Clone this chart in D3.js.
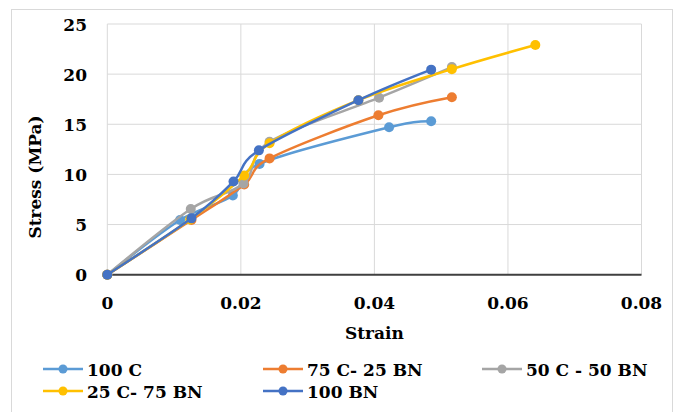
<!DOCTYPE html>
<html>
<head>
<meta charset="utf-8">
<script src="https://cdn.jsdelivr.net/npm/d3@7"></script>
<style>
  body { margin: 0; background: #fff; }
  text { font-family: "DejaVu Serif", serif; font-weight: bold; fill: #000; }
</style>
</head>
<body>
<div id="chart"></div>
<script>
// series values: [strain, stress]
const seriesNames = ["100 C", "75 C- 25 BN", "50 C - 50 BN", "25 C- 75 BN", "100 BN"]
const seriesColors = ["#5B9BD5", "#ED7D31", "#A5A5A5", "#FFC000", "#4472C4"]
const c100 = [[0, 0], [0.0109, 5.45], [0.0188, 7.9], [0.0228, 11.05], [0.0422, 14.7], [0.0485, 15.3]]
const c75bn25 = [[0, 0], [0.0126, 5.45], [0.0205, 9.0], [0.0243, 11.6], [0.0406, 15.9], [0.0516, 17.7]]
const c50bn50 = [[0, 0], [0.0125, 6.55], [0.0204, 9.1], [0.0243, 13.25], [0.0407, 17.65], [0.0516, 20.7]]
const c25bn75 = [[0, 0], [0.0124, 5.5], [0.0205, 9.9], [0.0243, 13.1], [0.0376, 17.4], [0.0516, 20.5], [0.0641, 22.9]]
const bn100 = [[0, 0], [0.0126, 5.62], [0.0189, 9.3], [0.0227, 12.4], [0.0376, 17.4], [0.0485, 20.45]]
const xTicks = [0, 0.02, 0.04, 0.06, 0.08]
const yTicks = [0, 5, 10, 15, 20, 25]

const allSeries = [c100, c75bn25, c50bn50, c25bn75, bn100]

const width = 681
const height = 412
const margin = {top: 24, right: 39.5, bottom: 137.3, left: 107.3}

const svg = d3.select("#chart")
    .append("svg")
    .attr("width", width)
    .attr("height", height)

const x = d3.scaleLinear()
    .domain([0, 0.08])
    .range([margin.left, width - margin.right])

const y = d3.scaleLinear()
    .domain([0, 25])
    .range([height - margin.bottom, margin.top])

// chart border
svg.append("rect")
    .attr("x", 11.5).attr("y", 9.5)
    .attr("width", 661).attr("height", 420)
    .attr("fill", "none")
    .attr("stroke", "#d9d9d9")

// grid
const grid = svg.append("g").attr("stroke", "#d9d9d9").attr("stroke-width", 1)
grid.selectAll("line.h")
    .data(yTicks)
    .join("line")
    .attr("class", "h")
    .attr("x1", x(0)).attr("x2", x(0.08))
    .attr("y1", d => y(d)).attr("y2", d => y(d))
grid.selectAll("line.v")
    .data(xTicks)
    .join("line")
    .attr("class", "v")
    .attr("x1", d => x(d)).attr("x2", d => x(d))
    .attr("y1", y(0)).attr("y2", y(25))

// x axis line
svg.append("line")
    .attr("x1", x(0)).attr("x2", x(0.08))
    .attr("y1", y(0)).attr("y2", y(0))
    .attr("stroke", "#404040")
    .attr("stroke-width", 2)

// tick labels
svg.append("g")
    .selectAll("text")
    .data(yTicks)
    .join("text")
    .attr("x", 87)
    .attr("y", d => y(d) + 6.5)
    .attr("text-anchor", "end")
    .style("font-size", "17px")
    .text(d => d)

svg.append("g")
    .selectAll("text")
    .data(xTicks)
    .join("text")
    .attr("x", d => x(d))
    .attr("y", 309)
    .attr("text-anchor", "middle")
    .style("font-size", "17px")
    .text(d => d)

// axis titles
svg.append("text")
    .attr("x", (x(0) + x(0.08)) / 2)
    .attr("y", 339)
    .attr("text-anchor", "middle")
    .style("font-size", "17px")
    .text("Strain")

svg.append("text")
    .attr("transform", "translate(41,177) rotate(-90)")
    .attr("text-anchor", "middle")
    .style("font-size", "17px")
    .text("Stress (MPa)")

// lines
const line = d3.line()
    .x(d => x(d[0]))
    .y(d => y(d[1]))
    .curve(d3.curveCardinal.tension(0))

const layer_series = svg.append("g")
    .selectAll("g")
    .data(allSeries)
    .join("g")

layer_series.append("path")
    .attr("fill", "none")
    .attr("stroke", (d, i) => seriesColors[i])
    .attr("stroke-width", 2.5)
    .attr("stroke-linejoin", "round")
    .attr("d", d => line(d))

layer_series.selectAll("circle")
    .data((d, i) => d.map(p => ({p, c: seriesColors[i]})))
    .join("circle")
    .attr("cx", d => x(d.p[0]))
    .attr("cy", d => y(d.p[1]))
    .attr("r", 5)
    .attr("fill", d => d.c)

// legend
const legendPos = [[43, 369], [263, 369], [482, 369], [43, 391], [263, 391]]
const legend = svg.append("g")
    .selectAll("g")
    .data(seriesNames)
    .join("g")
    .attr("transform", (d, i) => `translate(${legendPos[i][0]},${legendPos[i][1]})`)

legend.append("line")
    .attr("x1", 0).attr("x2", 40)
    .attr("stroke", (d, i) => seriesColors[i])
    .attr("stroke-width", 2.5)
legend.append("circle")
    .attr("cx", 20).attr("r", 4.5)
    .attr("fill", (d, i) => seriesColors[i])
legend.append("text")
    .attr("x", 44)
    .attr("y", 7)
    .style("font-size", "17px")
    .text(d => d)
</script>
</body>
</html>
